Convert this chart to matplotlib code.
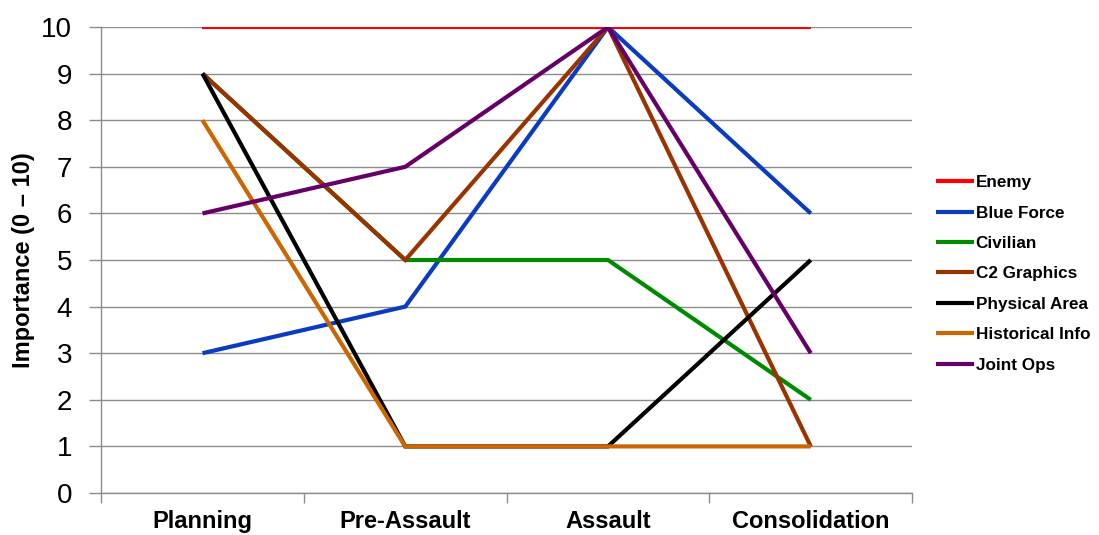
import numpy as np
import matplotlib
matplotlib.use('Agg')
import matplotlib.pyplot as plt

plt.rcParams['font.family'] = ['Liberation Sans', 'DejaVu Sans']

phases = ['Planning', 'Pre-Assault', 'Assault', 'Consolidation']

enemy = [10, 10, 10, 10]
blue_force = [3, 4, 10, 6]
civilian = [9, 5, 5, 2]
c2_graphics = [9, 5, 10, 1]
physical_area = [9, 1, 1, 5]
historical_info = [8, 1, 1, 1]
joint_ops = [6, 7, 10, 3]

series = [
    ('Enemy', enemy, '#ff0000'),
    ('Blue Force', blue_force, '#0a3cc2'),
    ('Civilian', civilian, '#008a00'),
    ('C2 Graphics', c2_graphics, '#993300'),
    ('Physical Area', physical_area, '#000000'),
    ('Historical Info', historical_info, '#cc6600'),
    ('Joint Ops', joint_ops, '#660066'),
]

fig = plt.figure(figsize=(10.99, 5.35), dpi=100)
ax = fig.add_axes([0.092, 0.0785, 0.738, 0.871])

x = np.arange(len(phases))
for name, vals, col in series:
    ax.plot(x, vals, color=col, lw=3.0, label=name, solid_joinstyle='miter',
            solid_capstyle='butt')

ax.set_xlim(-0.5, len(phases) - 0.5)
ax.set_ylim(0, 10)
ax.set_yticks(range(0, 11))
ax.grid(axis='y', color='#8c8c8c', lw=1.0)
ax.set_axisbelow(True)

# tick marks sit between categories, labels sit under each category
ax.set_xticks(np.arange(-0.5, len(phases)), [''] * (len(phases) + 1))
ax.set_xticks(x, phases, minor=True)
ax.tick_params(axis='x', which='minor', length=0, labelsize=17, pad=12)
ax.tick_params(axis='x', which='major', length=7, color='#8c8c8c', width=1)
ax.tick_params(axis='y', length=9, color='#8c8c8c', width=1, labelsize=20, pad=12)
for lbl in ax.get_xticklabels(minor=True):
    lbl.set_fontweight('bold')

for s in ['top', 'right']:
    ax.spines[s].set_visible(False)
for s in ['left', 'bottom']:
    ax.spines[s].set_color('#8c8c8c')
    ax.spines[s].set_linewidth(1)

ax.set_ylabel('Importance (0 – 10)', fontsize=17, fontweight='bold', labelpad=4)

leg = fig.legend(loc='center left', bbox_to_anchor=(0.838, 0.488), frameon=False,
                 prop={'size': 12.3, 'weight': 'bold'}, handlelength=2.2,
                 handletextpad=0.1, labelspacing=0.9)

fig.savefig('out.png', dpi=100)
